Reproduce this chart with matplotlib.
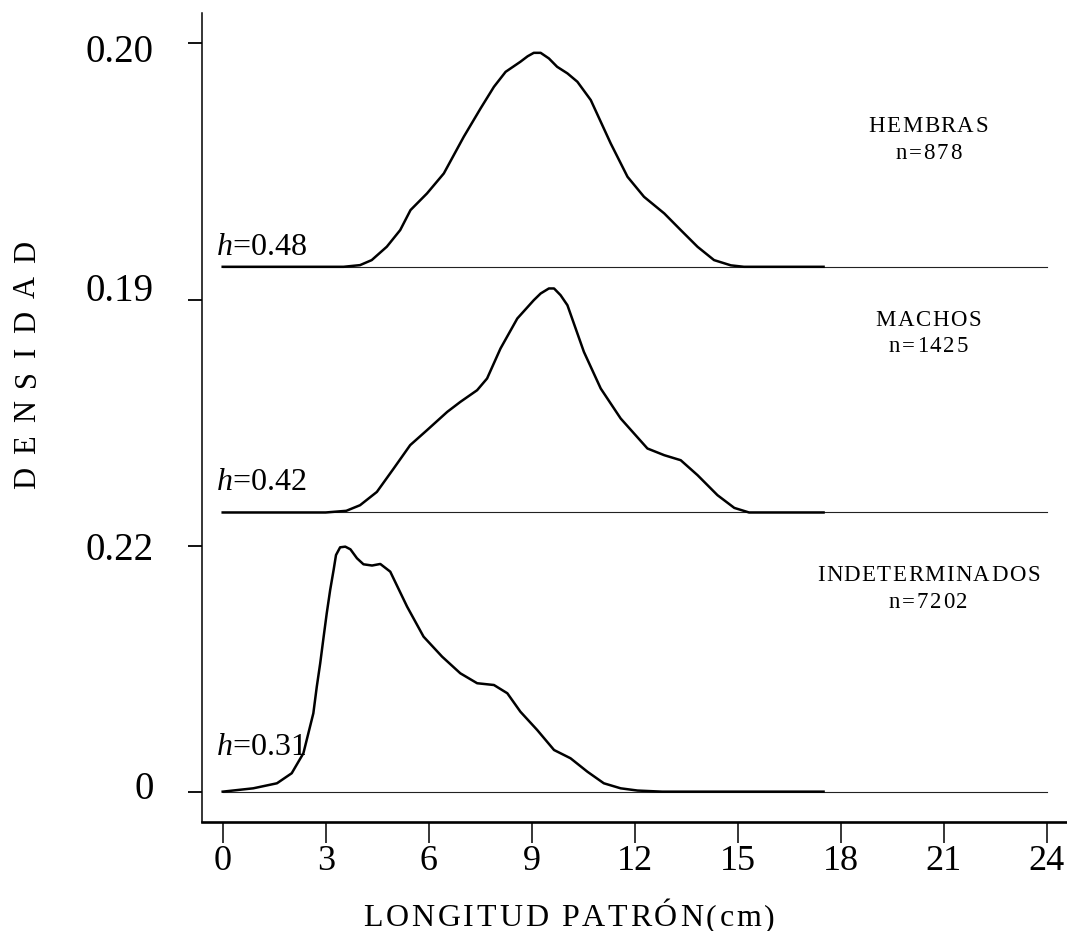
import numpy as np
import matplotlib
matplotlib.use("Agg")
from matplotlib import pyplot as plt
from matplotlib import transforms
from matplotlib.font_manager import FontProperties, findfont
from matplotlib.ft2font import FT2Font

plt.rcParams["font.family"] = ["Liberation Serif", "DejaVu Serif"]
plt.rcParams["mathtext.fontset"] = "custom"
plt.rcParams["mathtext.rm"] = "Liberation Serif"
plt.rcParams["mathtext.it"] = "Liberation Serif:italic"

# ---------------------------------------------
# Kernel density curves (longitud patrón, cm)
# ---------------------------------------------
hembras_x = [0.0, 3.52, 4.0, 4.34, 4.78, 5.17, 5.47, 5.95, 6.44, 7.02, 7.51,
             7.90, 8.24, 8.67, 8.88, 9.06, 9.26, 9.50, 9.74, 10.04, 10.33,
             10.72, 11.30, 11.79, 12.27, 12.86, 13.34, 13.83, 14.31, 14.80,
             15.18, 17.5]
hembras_y = [0.0, 0.0, 0.0015, 0.006, 0.018, 0.0329, 0.0508, 0.0657, 0.0836,
             0.1164, 0.1418, 0.1612, 0.1746, 0.1836, 0.1885, 0.1916, 0.1916,
             0.1866, 0.1791, 0.1732, 0.1657, 0.1493, 0.1105, 0.0806, 0.0627,
             0.0478, 0.0329, 0.0179, 0.006, 0.0013, 0.0, 0.0]

machos_x = [0.0, 3.0, 3.6, 4.0, 4.49, 4.98, 5.46, 5.95, 6.54, 6.92, 7.41, 7.70,
            8.09, 8.58, 9.06, 9.26, 9.50, 9.65, 9.84, 10.04, 10.52, 11.01,
            11.59, 12.37, 12.86, 13.34, 13.83, 14.41, 14.90, 15.33, 17.5]
machos_y = [0.0, 0.0, 0.0015, 0.0065, 0.0184, 0.0394, 0.0603, 0.0737, 0.0901,
            0.099, 0.1095, 0.12, 0.1468, 0.1737, 0.1901, 0.1961, 0.2006,
            0.2006, 0.1946, 0.1856, 0.1438, 0.111, 0.0842, 0.0573, 0.0513,
            0.0468, 0.0334, 0.0155, 0.0041, 0.0, 0.0]

indet_x = [0.0, 0.89, 1.58, 2.01, 2.35, 2.64, 2.74, 2.84, 2.94, 3.03, 3.13,
           3.23, 3.30, 3.42, 3.57, 3.72, 3.91, 4.10, 4.35, 4.59, 4.88, 5.37,
           5.85, 6.39, 6.92, 7.41, 7.90, 8.29, 8.67, 9.16, 9.65, 10.13, 10.62,
           11.10, 11.59, 12.08, 12.8, 17.5]
indet_y = [0.0, 0.003, 0.0075, 0.0165, 0.0344, 0.0702, 0.094, 0.115, 0.1388,
           0.1597, 0.1806, 0.1985, 0.2119, 0.2188, 0.2194, 0.2170, 0.2090,
           0.2036, 0.2025, 0.2039, 0.197, 0.1657, 0.1388, 0.1209, 0.106,
           0.0971, 0.0955, 0.0881, 0.0716, 0.0552, 0.0373, 0.0299, 0.0179,
           0.0075, 0.003, 0.001, 0.0, 0.0]

groups = ["HEMBRAS", "MACHOS", "INDETERMINADOS"]
sample_sizes = ["n=878", "n=1425", "n=7202"]
bandwidths = ["0.48", "0.42", "0.31"]
offsets = [0.47, 0.25, 0.0]
peak_labels = ["0.20", "0.19", "0.22", "0"]
peak_values = [0.20, 0.19, 0.22, 0.0]
peak_offsets = [0.47, 0.25, 0.0, 0.0]

W, H, DPI = 1067, 931, 100
fig = plt.figure(figsize=(W / DPI, H / DPI), dpi=DPI)
ax = fig.add_axes([202 / W, 1 - 821.7 / H, (W - 202) / W, (821.7 - 13.3) / H])


# ---------------------------------------------
# Letter-spaced text, one glyph at a time
# ---------------------------------------------
def spaced_text(x, y, text, size, track, transform, rotation=0):
    fp = FontProperties(family="Liberation Serif", size=size)
    font = FT2Font(findfont(fp))
    font.set_size(size, 72)
    adv = []
    for ch in text:
        if ch == " ":
            adv.append(0.25 * size)
        else:
            adv.append(font.load_char(ord(ch)).linearHoriAdvance / 65536)
    total = sum(adv) + track * (len(text) - 1)
    pos = -total / 2
    for ch, a in zip(text, adv):
        if ch != " ":
            dx, dy = (pos, 0) if rotation == 0 else (0, pos)
            off = transforms.ScaledTranslation(dx / 72, dy / 72, fig.dpi_scale_trans)
            ax.text(x, y, ch, transform=transform + off, fontproperties=fp,
                    rotation=rotation, rotation_mode="anchor",
                    ha="left", va="baseline", clip_on=False)
        pos += a + track


# ---------------------------------------------
# Baselines and curves
# ---------------------------------------------
curves = [(hembras_x, hembras_y), (machos_x, machos_y), (indet_x, indet_y)]
text_lift = [0.0105, 0.0197, 0.0329]
for (cx, cy), off, lift, h in zip(curves, offsets, text_lift, bandwidths):
    ax.plot([0, 24], [off, off], color="#222222", lw=0.8, zorder=1)
    ax.plot(cx, np.array(cy) + off, color="black", lw=1.8,
            solid_joinstyle="round", zorder=2)
    ax.text(-0.19, off + lift, "$h$=" + h, fontsize=23,
            ha="left", va="baseline")

# group names and sample sizes
name_base = [0.5909, 0.4172, 0.1889]
n_base = [0.5667, 0.3939, 0.1648]
for g, n, yb, yn in zip(groups, sample_sizes, name_base, n_base):
    spaced_text(20.55, yb, g, 16.5, 1.0, ax.transData)
    spaced_text(20.55, yn, n, 16.5, 1.3, ax.transData)

# ---------------------------------------------
# Axes styling
# ---------------------------------------------
ax.set_xlim(-0.603, 24.59)
ax.set_ylim(-0.0269, 0.697)
ax.spines["top"].set_visible(False)
ax.spines["right"].set_visible(False)
ax.spines["left"].set_linewidth(1.1)
ax.spines["bottom"].set_linewidth(1.9)

ax.set_xticks(np.arange(0, 25, 3))
ax.tick_params(axis="x", direction="out", length=15, width=1.1,
               labelsize=26, pad=2)
ytick_pos = [o + v for o, v in zip(peak_offsets, peak_values)]
ax.set_yticks(ytick_pos)
ax.set_yticklabels(peak_labels)
ax.tick_params(axis="y", direction="out", length=10, width=1.3,
               labelsize=28, pad=25)

# nudge the y labels up or down beside their ticks
label_shift = {"0.20": -5, "0.19": 13, "0.22": 0, "0": 7}
for lab in ax.get_yticklabels():
    dy = label_shift.get(lab.get_text(), 0)
    lab.set_transform(lab.get_transform() +
                      transforms.ScaledTranslation(0, dy / DPI, fig.dpi_scale_trans))

# axis titles
spaced_text(569 / W, 1 - 926 / H, "LONGITUD PATRÓN(cm)", 23, 2.0, fig.transFigure)
spaced_text(35 / W, 1 - 365 / H, "DENSIDAD", 22, 9.5, fig.transFigure,
            rotation=90)

fig.savefig("out.png", dpi=DPI)
